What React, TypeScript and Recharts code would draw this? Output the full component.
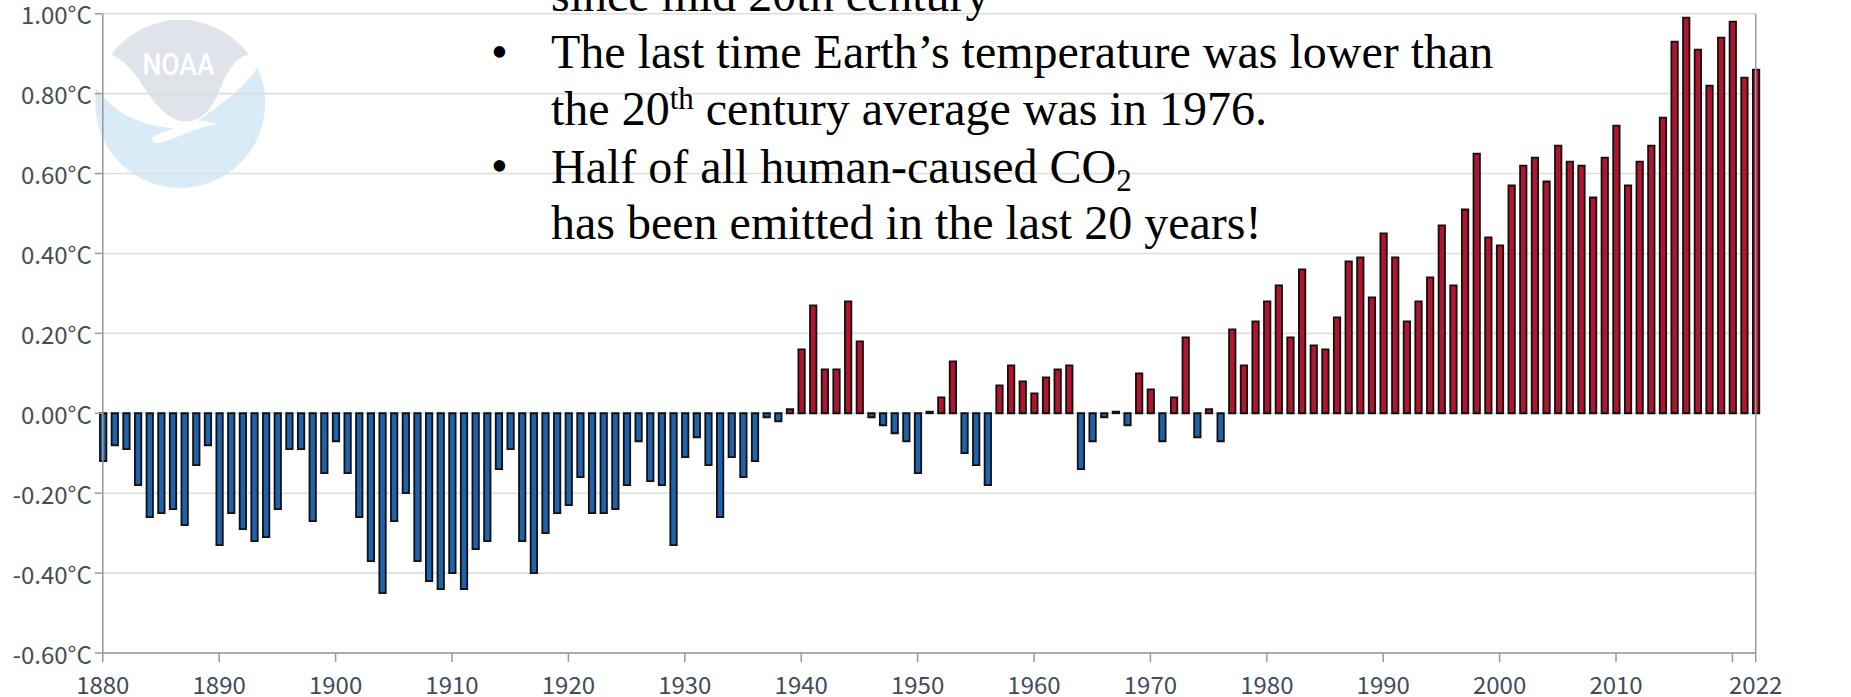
import React from 'react';
import { BarChart, Bar, Cell, XAxis, YAxis, CartesianGrid } from 'recharts';

const firstYear = 1880;
const anomalies = [
  -0.12, -0.08, -0.09, -0.18, -0.26, -0.25, -0.24, -0.28, -0.13, -0.08,
  -0.33, -0.25, -0.29, -0.32, -0.31, -0.24, -0.09, -0.09, -0.27, -0.15,
  -0.07, -0.15, -0.26, -0.37, -0.45, -0.27, -0.2, -0.37, -0.42, -0.44,
  -0.4, -0.44, -0.34, -0.32, -0.14, -0.09, -0.32, -0.4, -0.3, -0.25,
  -0.23, -0.16, -0.25, -0.25, -0.24, -0.18, -0.07, -0.17, -0.18, -0.33,
  -0.11, -0.06, -0.13, -0.26, -0.11, -0.16, -0.12, -0.01, -0.02, 0.01,
  0.16, 0.27, 0.11, 0.11, 0.28, 0.18, -0.01, -0.03, -0.05, -0.07,
  -0.15, 0.004, 0.04, 0.13, -0.1, -0.13, -0.18, 0.07, 0.12, 0.08,
  0.05, 0.09, 0.11, 0.12, -0.14, -0.07, -0.01, 0.004, -0.03, 0.1,
  0.06, -0.07, 0.04, 0.19, -0.06, 0.01, -0.07, 0.21, 0.12, 0.23,
  0.28, 0.32, 0.19, 0.36, 0.17, 0.16, 0.24, 0.38, 0.39, 0.29,
  0.45, 0.39, 0.23, 0.28, 0.34, 0.47, 0.32, 0.51, 0.65, 0.44,
  0.42, 0.57, 0.62, 0.64, 0.58, 0.67, 0.63, 0.62, 0.54, 0.64,
  0.72, 0.57, 0.63, 0.67, 0.74, 0.93, 0.99, 0.91, 0.82, 0.94,
  0.98, 0.84, 0.86,
];
const yearTicks = [1880, 1890, 1900, 1910, 1920, 1930, 1940, 1950, 1960, 1970, 1980, 1990, 2000, 2010, 2020, 2022];
const celsiusTicks = [-0.6, -0.4, -0.2, 0, 0.2, 0.4, 0.6, 0.8, 1];
const fahrenheitTicks = [-1.08, -0.72, -0.36, 0, 0.36, 0.72, 1.08, 1.44, 1.8];

const tableRows = anomalies.map((value, i) => ({ year: firstYear + i, value }));

const WARM = '#b0172f';
const COOL = '#1f63ad';
const LABEL = '#434c5c';
const AXIS = '#999999';
const fontFamily = '"Noto Sans CJK JP", "Noto Sans", sans-serif';
const xTickStyle = { fill: LABEL, fontSize: 24, fontFamily };
const yTickStyle = { fill: LABEL, fontSize: 24, fontFamily, dy: 2 };
const serif = '"Liberation Serif", "Times New Roman", serif';

function Logo() {
  return (
    <svg width={1851} height={697} style={{ position: 'absolute', left: 0, top: 0 }}>
      <g transform="translate(0.5,2.5)">
        <path
          d="M257,65 A85,85 0 1 1 96,86 C110,105 130,122 174,126 C160,130 150,134 152,137 C152,141 156,141 160,140 C180,135 195,124 217,122 C212,119 205,119 198,118 C215,105 240,90 257,65 Z"
          fill="#d9ebf7"
        />
        <path
          d="M111,52 A85,85 0 0 1 248,52 C235,55 228,68 222,80 C215,100 205,119 186,119 C165,119 150,95 137,75 C130,65 122,58 111,52 Z"
          fill="#e0e3ea"
        />
        <text x={178} y={72} fill="#ffffff" fontFamily="Roboto, sans-serif" fontWeight={500} fontSize={32} textAnchor="middle" textLength={72} lengthAdjust="spacingAndGlyphs">NOAA</text>
      </g>
    </svg>
  );
}

function Overlay() {
  return (
    <svg width={1851} height={697} style={{ position: 'absolute', left: 0, top: 0 }} fontFamily={serif} fontSize={48} fill="#000000">
      <text x={551} y={11}>since mid 20th century</text>
      <text x={491} y={68}>•</text>
      <text x={551} y={68}>The last time Earth’s temperature was lower than</text>
      <text x={551} y={125}>
        the 20<tspan fontSize={31} dy={-16}>th</tspan><tspan dy={16}> century average was in 1976.</tspan>
      </text>
      <text x={491} y={182}>•</text>
      <text x={551} y={183}>
        Half of all human-caused CO<tspan fontSize={31} dy={8}>2</tspan>
      </text>
      <text x={551} y={239}>has been emitted in the last 20 years!</text>
    </svg>
  );
}

export default function App() {
  return (
    <div style={{ position: 'absolute', left: 0, top: 0, width: 1851, height: 697, overflow: 'hidden', background: '#ffffff' }}>
      <Logo />
      <div style={{ position: 'absolute', left: 0, top: 0 }}>
        <BarChart width={1851} height={697} data={tableRows} margin={{ top: 13.7, right: 0, bottom: 0, left: 0 }} barSize={6.4}>
          <CartesianGrid vertical={false} stroke="#dedede" strokeWidth={1.6} yAxisId="c" />
          <XAxis
            dataKey="year"
            type="number"
            domain={[1880, 2022]}
            ticks={yearTicks}
            interval={0}
            height={44}
            stroke={AXIS}
            strokeWidth={1.5}
            tickSize={9}
            tickMargin={15}
            tick={xTickStyle}
            tickFormatter={(y: number) => (y === 2020 ? '' : String(y))}
          />
          <YAxis
            yAxisId="c"
            orientation="left"
            width={102.8}
            domain={[-0.6, 1]}
            ticks={celsiusTicks}
            interval={0}
            stroke={AXIS}
            strokeWidth={1.5}
            tickSize={8}
            tickMargin={3}
            tick={yTickStyle}
            tickFormatter={(v: number) => `${v.toFixed(2)}°C`}
          />
          <YAxis
            yAxisId="f"
            orientation="right"
            width={95.3}
            domain={[-1.08, 1.8]}
            ticks={fahrenheitTicks}
            interval={0}
            stroke={AXIS}
            strokeWidth={1.5}
            tickSize={8}
            tickMargin={5}
            tick={yTickStyle}
            tickFormatter={(v: number) => `${v.toFixed(2)}°F`}
          />
          <Bar dataKey="value" yAxisId="c" isAnimationActive={false} stroke="#111111" strokeWidth={1.8}>
            {tableRows.map((row) => (
              <Cell key={row.year} fill={row.value >= 0 ? WARM : COOL} />
            ))}
          </Bar>
        </BarChart>
      </div>
      <Overlay />
    </div>
  );
}
